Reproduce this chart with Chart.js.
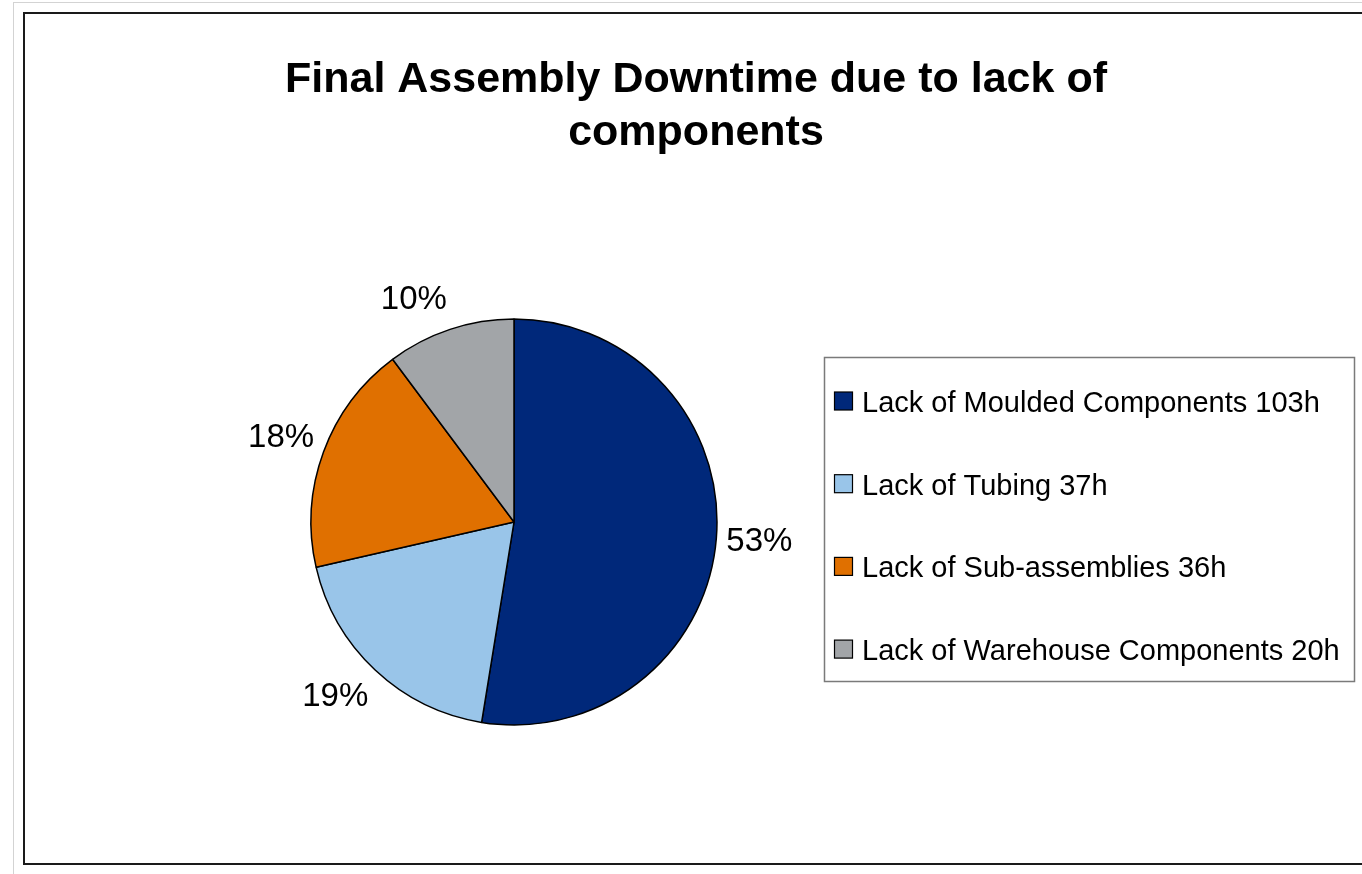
<!DOCTYPE html>
<html><head><meta charset="utf-8">
<script src="https://cdn.jsdelivr.net/npm/chart.js@4.4.1/dist/chart.umd.min.js"></script>
<style>
html,body{margin:0;padding:0;background:#fff;overflow:hidden;width:1362px;height:874px;}
#outer{position:absolute;left:13px;top:2px;width:1400px;height:900px;border-left:1px solid #d3d3d3;border-top:1px solid #d3d3d3;}
#frame{position:absolute;left:23px;top:12px;width:1400px;height:849px;border:2px solid #1a1a1a;}
#c{position:absolute;left:0;top:0;}
</style></head><body>
<div id="outer"></div><div id="frame"></div>
<canvas id="c" width="1362" height="874"></canvas>
<script>
const categories = ['Lack of Moulded Components 103h', 'Lack of Tubing 37h', 'Lack of Sub-assemblies 36h', 'Lack of Warehouse Components 20h'];
const hours = [103, 37, 36, 20];
const sliceColors = ['#00287A', '#99C5E9', '#E07000', '#A2A5A8'];
const titleLines = ['Final Assembly Downtime due to lack of', 'components'];

const FONT = '"Liberation Sans", Arial, sans-serif';

const placePie = {
  id: 'placePie',
  afterLayout(chart) {
    const cx = 514, cy = 522, h = 212;
    chart.chartArea = {left: cx - h, right: cx + h, top: cy - h, bottom: cy + h, width: 2 * h, height: 2 * h};
  }
};

const pctLabels = {
  id: 'pctLabels',
  afterDatasetsDraw(chart) {
    const ctx = chart.ctx;
    const ds = chart.data.datasets[0].data;
    const total = ds.reduce((a, b) => a + b, 0);
    const meta = chart.getDatasetMeta(0);
    ctx.save();
    ctx.font = '33px ' + FONT;
    ctx.fillStyle = '#000';
    ctx.textAlign = 'center';
    ctx.textBaseline = 'middle';
    const clamp = v => Math.max(-1, Math.min(1, v));
    meta.data.forEach((arc, i) => {
      const p = arc.getProps(['x', 'y', 'startAngle', 'endAngle', 'outerRadius'], true);
      const mid = (p.startAngle + p.endAngle) / 2;
      const dx = Math.cos(mid), dy = Math.sin(mid);
      const txt = Math.round(ds[i] / total * 100) + '%';
      const w = ctx.measureText(txt).width, hgt = 40;
      const ax = p.x + dx * (p.outerRadius + 10);
      const ay = p.y + dy * (p.outerRadius + 10);
      const tx = ax + w / 2 * clamp(3.2 * dx);
      const ty = ay + hgt / 2 * clamp(1.5 * dy);
      ctx.fillText(txt, tx, ty);
    });
    ctx.restore();
  }
};

const boxLegend = {
  id: 'boxLegend',
  afterDraw(chart) {
    const ctx = chart.ctx;
    const labels = chart.data.labels;
    const colors = chart.data.datasets[0].backgroundColor;
    const bx = 824.5, by = 357.5, bw = 530, bh = 324;
    ctx.save();
    ctx.strokeStyle = '#7a7a7a';
    ctx.lineWidth = 1.5;
    ctx.strokeRect(bx, by, bw, bh);
    ctx.font = '29px ' + FONT;
    ctx.textBaseline = 'alphabetic';
    ctx.textAlign = 'left';
    const step = 82.7;
    labels.forEach((lab, i) => {
      const cy = 401 + i * step;
      ctx.fillStyle = colors[i];
      ctx.fillRect(834.5, cy - 9, 18, 18);
      ctx.strokeStyle = '#000';
      ctx.lineWidth = 1.2;
      ctx.strokeRect(834.5, cy - 9, 18, 18);
      ctx.fillStyle = '#000';
      ctx.fillText(lab, 862, cy + 11);
    });
    ctx.restore();
  }
};

new Chart(document.getElementById('c'), {
  type: 'pie',
  data: {
    labels: categories,
    datasets: [{
      data: hours,
      backgroundColor: sliceColors,
      borderColor: '#000',
      borderWidth: 1.5,
      radius: 203
    }]
  },
  options: {
    responsive: false,
    animation: false,
    layout: {padding: {left: 30, right: 0, top: 0, bottom: 0}},
    plugins: {
      legend: {display: false},
      tooltip: {enabled: false},
      title: {
        display: true,
        text: titleLines,
        color: '#000',
        font: {family: FONT, size: 43, weight: 'bold', lineHeight: 1.22},
        padding: {top: 54, bottom: 0}
      }
    }
  },
  plugins: [placePie, pctLabels, boxLegend]
});
</script>
</body></html>
